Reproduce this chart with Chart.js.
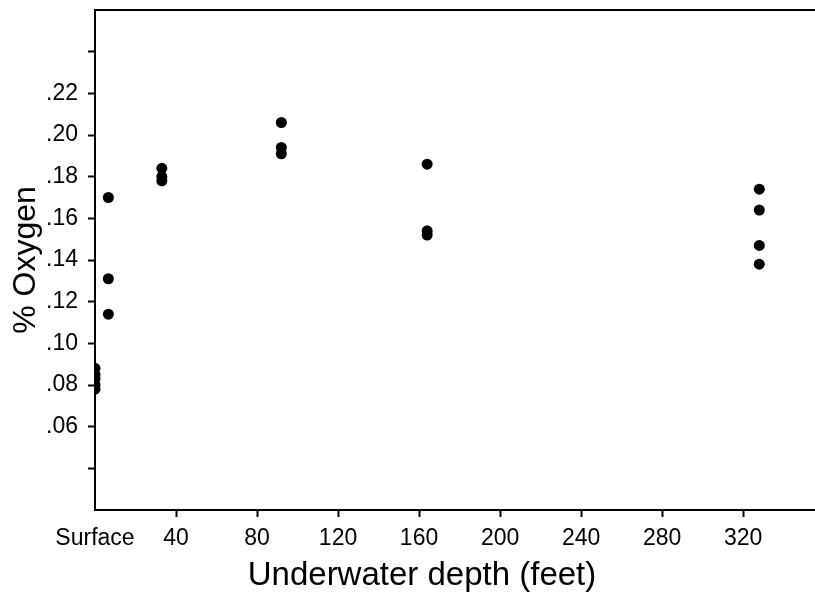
<!DOCTYPE html>
<html>
<head>
<meta charset="utf-8">
<title>Oxygen vs underwater depth</title>
<script src="https://cdn.jsdelivr.net/npm/chart.js@4"></script>
<style>
  html, body { margin: 0; padding: 0; background: #fff; }
  #wrap { width: 815px; height: 599px; position: relative; }
</style>
</head>
<body>
<div id="wrap"><canvas id="oxygenChart"></canvas></div>
<script>
// depth (ft) and % oxygen, paired by index
const depthFt = [0, 0, 0, 0, 0, 6.6, 6.6, 6.6, 33, 33, 33, 92, 92, 92, 164, 164, 164, 328, 328, 328, 328];
const oxygenPct = [0.088, 0.085, 0.083, 0.080, 0.078, 0.170, 0.131, 0.114, 0.184, 0.180, 0.178, 0.206, 0.194, 0.191, 0.186, 0.154, 0.152, 0.174, 0.164, 0.147, 0.138];

const xTickValues = [0, 40, 80, 120, 160, 200, 240, 280, 320];
const xTickLabels = ['Surface', '40', '80', '120', '160', '200', '240', '280', '320'];
const yTickValues = [0.04, 0.06, 0.08, 0.10, 0.12, 0.14, 0.16, 0.18, 0.20, 0.22, 0.24];
const yTickLabels = ['', '.06', '.08', '.10', '.12', '.14', '.16', '.18', '.20', '.22', ''];

const xTitle = 'Underwater depth (feet)';
const yTitle = '% Oxygen';

const FONT = "'Liberation Sans', Arial, sans-serif";

// x title sits left of the plot centre in the original, so draw it by hand
const xTitlePlugin = {
  id: 'xTitle',
  afterDraw(chart) {
    const { ctx, chartArea } = chart;
    ctx.save();
    ctx.font = '33px ' + FONT;
    ctx.fillStyle = '#000';
    ctx.textAlign = 'center';
    ctx.textBaseline = 'middle';
    ctx.fillText(xTitle, chartArea.left + 327, 576);
    ctx.restore();
  }
};

// kill the label overhang padding so the plot box fills the canvas like the original
function noOverhang(scale) {
  scale.paddingTop = 0;
  scale.paddingBottom = 0;
  scale.paddingLeft = 0;
  scale.paddingRight = 0;
}

document.addEventListener('DOMContentLoaded', function () {
  Chart.defaults.color = '#000';
  Chart.defaults.font.family = FONT;

  const points = depthFt.map((d, i) => ({ x: d, y: oxygenPct[i] }));

  new Chart(document.getElementById('oxygenChart'), {
    type: 'scatter',
    data: {
      datasets: [{
        data: points,
        backgroundColor: '#000',
        borderWidth: 0,
        pointRadius: 5.5,
        pointHoverRadius: 5.5
      }]
    },
    plugins: [xTitlePlugin],
    options: {
      responsive: true,
      maintainAspectRatio: false,
      animation: false,
      layout: { autoPadding: false, padding: { top: 10, right: 0, left: 0, bottom: 0 } },
      plugins: {
        legend: { display: false },
        tooltip: { enabled: false }
      },
      scales: {
        x: {
          type: 'linear',
          position: 'bottom',
          min: 0,
          max: 355.5,
          afterBuildTicks: (scale) => { scale.ticks = xTickValues.map(v => ({ value: v })); },
          afterFit: (scale) => { scale.height = 89; noOverhang(scale); },
          border: { display: true, color: '#000', width: 2 },
          grid: {
            drawOnChartArea: false,
            drawTicks: true,
            tickLength: 7,
            tickWidth: 2,
            tickColor: (ctx) => ctx.index === 0 ? 'rgba(0,0,0,0)' : '#000'
          },
          ticks: {
            padding: 8,
            maxRotation: 0,
            autoSkip: false,
            font: { size: 23 },
            callback: (value, index) => xTickLabels[index]
          }
        },
        xTop: {
          type: 'linear',
          position: 'top',
          min: 0,
          max: 355.5,
          afterFit: (scale) => { scale.height = 0; noOverhang(scale); },
          border: { display: true, color: '#000', width: 2 },
          grid: { display: false },
          ticks: { display: false }
        },
        y: {
          type: 'linear',
          position: 'left',
          min: 0.02,
          max: 0.26,
          afterBuildTicks: (scale) => { scale.ticks = yTickValues.map(v => ({ value: v })); },
          afterFit: (scale) => { scale.width = 95; noOverhang(scale); },
          border: { display: true, color: '#000', width: 2 },
          grid: {
            drawOnChartArea: false,
            drawTicks: true,
            tickLength: 7,
            tickWidth: 2,
            tickColor: '#000'
          },
          ticks: {
            padding: 10,
            autoSkip: false,
            font: { size: 23 },
            callback: (value, index) => yTickLabels[index]
          },
          title: {
            display: true,
            text: yTitle,
            font: { size: 32 },
            padding: { top: 7, bottom: 0 }
          }
        }
      }
    }
  });
});
</script>
</body>
</html>
